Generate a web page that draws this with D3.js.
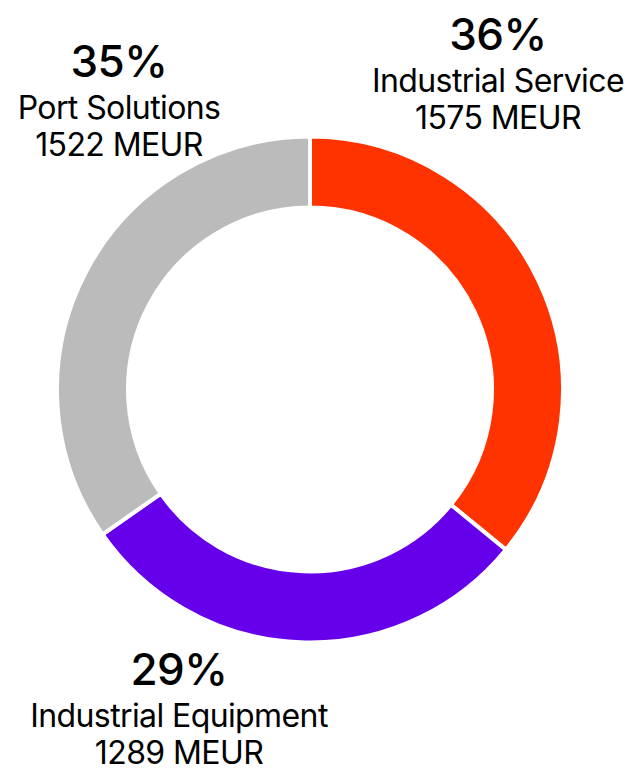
<!DOCTYPE html>
<html>
<head>
<meta charset="utf-8">
<script src="https://cdn.jsdelivr.net/npm/d3@7"></script>
<style>
  body { margin: 0; background: #fff; }
  svg text { font-family: Inter, "Open Sans", sans-serif; fill: #000; }
</style>
</head>
<body>
<div id="chart"></div>
<script>
// segment data, clockwise from 12 o'clock
const segments = ["Industrial Service", "Industrial Equipment", "Port Solutions"];
const revenue = [1575, 1289, 1522];          // MEUR
const shares = ["36%", "29%", "35%"];
const colors = ["#ff3300", "#6600ea", "#bbbbbb"];

const width = 631, height = 768,
    cx = 310, cy = 389.5,
    outerR = 253, innerR = 182;

// where each label block sits (center x, baseline of the % line)
const labelPos = [[498, 50], [179, 685], [119, 77]];

const svg = d3.select('#chart').append('svg')
    .attr('width', width)
    .attr('height', height);

const g = svg.append('g')
    .attr('transform', `translate(${cx},${cy})`);

const pie = d3.pie().sort(null).value(d => d.value);
const arc = d3.arc().innerRadius(innerR).outerRadius(outerR);

const rows = segments.map((s, i) => ({ name: s, value: revenue[i], share: shares[i], color: colors[i] }));

g.selectAll('path')
    .data(pie(rows))
    .enter()
    .append('path')
    .attr('d', arc)
    .attr('fill', d => d.data.color)
    .attr('stroke', '#fff')
    .attr('stroke-width', 4);

const labels = svg.selectAll('g.label')
    .data(rows)
    .enter()
    .append('g')
    .attr('class', 'label')
    .attr('transform', (d, i) => `translate(${labelPos[i][0]},${labelPos[i][1]})`)
    .attr('text-anchor', 'middle');

labels.append('text')
    .attr('y', 0)
    .style('font-size', '44px')
    .style('font-weight', 500)
    .style('letter-spacing', '-0.5px')
    .text(d => d.share);

labels.append('text')
    .attr('y', 42)
    .style('font-size', '32px')
    .style('letter-spacing', '-0.6px')
    .text(d => d.name);

labels.append('text')
    .attr('y', 79)
    .style('font-size', '32px')
    .style('letter-spacing', '-0.6px')
    .text(d => d.value + ' MEUR');
</script>
</body>
</html>
